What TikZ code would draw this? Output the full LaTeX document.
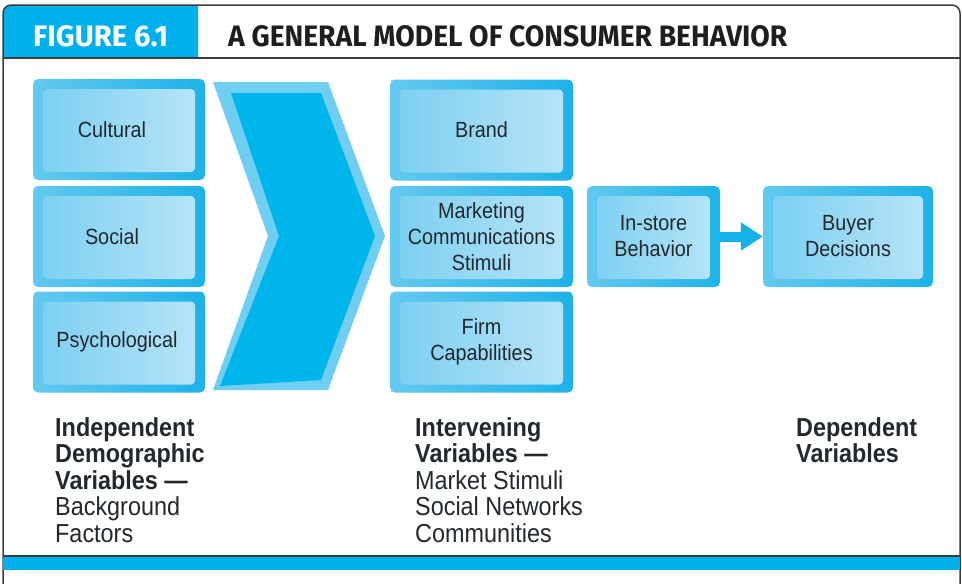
\documentclass[tikz,border=0pt]{standalone}
\usepackage{fontspec}
\setmainfont{Liberation Sans}
\newfontfamily\narrowfont{Liberation Sans}[FakeStretch=0.9]
\newfontfamily\hdrfont{Fira Sans}
\usetikzlibrary{arrows.meta}
\definecolor{hdrcyan}{RGB}{0,176,236}
\definecolor{framecol}{RGB}{60,60,60}
\definecolor{titlecol}{RGB}{30,30,30}
\definecolor{txtcol}{RGB}{35,40,45}
\definecolor{outA}{RGB}{100,201,239}
\definecolor{outB}{RGB}{28,178,232}
\definecolor{inA}{RGB}{122,206,240}
\definecolor{inB}{RGB}{185,229,248}
\definecolor{chevmain}{RGB}{0,181,236}
\definecolor{chevbevel}{RGB}{112,206,241}
\definecolor{arrcol}{RGB}{20,176,232}
\tikzset{
  cbox/.style={rectangle, rounded corners=5pt, inner sep=0pt, align=center,
    font=\narrowfont\fontsize{22}{26}\selectfont, text=txtcol,
    left color=outA, right color=outB,
    path picture={\shade[rounded corners=4pt, left color=inA, right color=inB]
      ([xshift=10pt,yshift=-10pt]path picture bounding box.north west) rectangle
      ([xshift=-10pt,yshift=8pt]path picture bounding box.south east);}},
  leftbox/.style={cbox, minimum width=172pt, minimum height=101pt},
  midbox/.style={cbox, minimum width=183pt, minimum height=101pt},
  btxt/.style={anchor=north west, inner sep=0pt, align=left, text=txtcol,
    font=\narrowfont\fontsize{26}{26.5}\selectfont},
  flowarrow/.style={line width=10pt, draw=arrcol, -{Triangle[length=22pt,width=27pt]}},
  frameline/.style={draw=framecol, line width=1.5pt}
}
\begin{document}
\begin{tikzpicture}[x=1pt,y=-1pt]
\useasboundingbox (0,0) rectangle (962,584);
\fill[white] (0,0) rectangle (962,584);
% header
\fill[hdrcyan] (3,58) -- (3,13) arc[start angle=180,end angle=270,radius=8] -- (198,5) -- (198,58) -- cycle;
\draw[frameline] (3,584) -- (3,13) arc[start angle=180,end angle=270,radius=8] -- (952,5) arc[start angle=270,end angle=360,radius=8] -- (960,584);
\draw[frameline] (3,58) -- (960,58);
\node[anchor=base west, inner sep=0pt, text=white] (fig) at (33,46) {\resizebox{135pt}{21pt}{\hdrfont\bfseries FIGURE 6.1}};
\node[anchor=base west, inner sep=0pt, text=titlecol] (title) at (228,46) {\resizebox{559pt}{21pt}{\hdrfont\bfseries A GENERAL MODEL OF CONSUMER BEHAVIOR}};
% bottom bar
\fill[hdrcyan] (3,557) rectangle (960,570);
\draw[frameline] (3,556) -- (960,556);
% left boxes
\node[leftbox] (cultural) at (119,129.5) {Cultural\hspace*{14pt}};
\node[leftbox] (social) at (119,236.5) {Social\hspace*{14pt}};
\node[leftbox] (psych) at (119,342) {Psychological\hspace*{4pt}};
% chevron
\fill[chevbevel] (213,82) -- (328,82) -- (385,236) -- (328,390) -- (213,390) -- (268,236) -- cycle;
\fill[chevmain] (231,93) -- (321,93) -- (375,236) -- (321,380) -- (220,386) -- (279,236) -- cycle;
% middle boxes
\node[midbox] (brand) at (481.5,130) {Brand};
\node[midbox] (market) at (481.5,236.5) {Marketing\\Communications\\Stimuli};
\node[midbox] (firm) at (481.5,342) {Firm\\Capabilities};
% right boxes
\node[cbox, minimum width=133pt, minimum height=101pt] (instore) at (653.5,236.5) {In-store\\Behavior};
\node[cbox, minimum width=170pt, minimum height=101pt] (buyer) at (848,236.5) {Buyer\\Decisions};
\draw[flowarrow] (instore.east) -- (buyer.west);
% bottom labels
\node[btxt] (indep) at (55,417) {\textbf{Independent}\\\textbf{Demographic}\\\textbf{Variables —}\\Background\\Factors};
\node[btxt] (interv) at (415,417) {\textbf{Intervening}\\\textbf{Variables —}\\Market Stimuli\\Social Networks\\Communities};
\node[btxt] (dep) at (796,417) {\textbf{Dependent}\\\textbf{Variables}};
\end{tikzpicture}
\end{document}
